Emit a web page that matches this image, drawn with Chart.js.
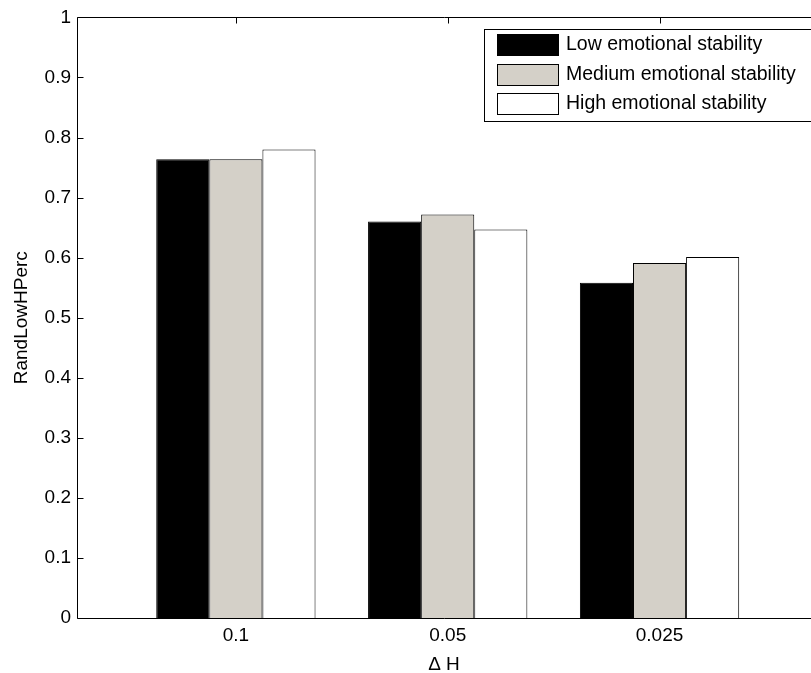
<!DOCTYPE html>
<html><head><meta charset="utf-8">
<script src="https://cdn.jsdelivr.net/npm/chart.js@4"></script>
<style>html,body{margin:0;padding:0;background:#fff;overflow:hidden}#wrap{width:811px;height:673px;position:relative}</style>
</head><body><div id="wrap"><canvas id="c"></canvas></div>
<script>
const categories = ['0.1', '0.05', '0.025'];
const categoryPositions = [1, 2, 3];
const seriesNames = ['Low emotional stability', 'Medium emotional stability', 'High emotional stability'];
const lowValues = [0.764, 0.660, 0.558];
const mediumValues = [0.764, 0.672, 0.591];
const highValues = [0.780, 0.647, 0.601];
const yTickLabels = ['0', '0.1', '0.2', '0.3', '0.4', '0.5', '0.6', '0.7', '0.8', '0.9', '1'];
const seriesColors = ['#000000', '#d4d0c8', '#ffffff'];
const xTitle = 'Δ H';
const yTitle = 'RandLowHPerc';

const allValues = [lowValues, mediumValues, highValues];
const FONT = '"Liberation Sans", Arial, sans-serif';
const fontSize = 19;

const axesPlugin = {
  id: 'matlabAxes',
  afterDatasetsDraw(chart) {
    const {ctx, chartArea: a, scales: {x, y}} = chart;
    ctx.save();
    ctx.strokeStyle = '#000';
    ctx.lineWidth = 1;
    const L = Math.round(a.left) + 0.5, T = Math.round(a.top) + 0.5, B = Math.round(a.bottom) + 0.5;
    ctx.beginPath();
    ctx.moveTo(L, T); ctx.lineTo(L, B); ctx.lineTo(a.right + 20, B);
    ctx.moveTo(L, T); ctx.lineTo(a.right + 20, T);
    y.ticks.forEach(t => {
      const py = Math.round(y.getPixelForValue(t.value)) + 0.5;
      ctx.moveTo(L, py); ctx.lineTo(L + 6, py);
    });
    x.ticks.forEach(t => {
      const px = Math.round(x.getPixelForValue(t.value)) + 0.5;
      ctx.moveTo(px, T); ctx.lineTo(px, T + 6);
    });
    ctx.stroke();
    ctx.restore();
  },
  afterDraw(chart) {
    const ctx = chart.ctx;
    ctx.save();
    const bx = 484.5, by = 29.5, bw = 400, bh = 92;
    ctx.fillStyle = '#fff';
    ctx.fillRect(bx, by, bw, bh);
    ctx.strokeStyle = '#000';
    ctx.lineWidth = 1;
    ctx.strokeRect(bx, by, bw, bh);
    ctx.font = '19.5px ' + FONT;
    ctx.textBaseline = 'middle';
    ctx.textAlign = 'left';
    chart.data.datasets.forEach((ds, i) => {
      const sy = 34 + Math.round(i * 29.5);
      ctx.fillStyle = ds.backgroundColor;
      ctx.fillRect(497, sy, 61, 21);
      ctx.strokeStyle = '#000';
      ctx.strokeRect(497.5, sy + 0.5, 61, 21);
      ctx.fillStyle = '#000';
      ctx.fillText(ds.label, 566, sy + 11);
    });
    ctx.restore();
  }
};

new Chart(document.getElementById('c'), {
  type: 'bar',
  data: {
    datasets: seriesNames.map((n, i) => ({
      label: n,
      data: categoryPositions.map((p, j) => ({x: p, y: allValues[i][j]})),
      backgroundColor: seriesColors[i],
      borderColor: '#000',
      borderWidth: 1,
      categoryPercentage: 0.752,
      barPercentage: 1
    }))
  },
  options: {
    responsive: true,
    maintainAspectRatio: false,
    animation: false,
    layout: {padding: {top: 17, right: 0, left: 0, bottom: 0}},
    plugins: {legend: {display: false}, tooltip: {enabled: false}},
    scales: {
      x: {
        type: 'linear', min: 0.25, max: 3.715, offset: false,
        grid: {display: false, drawTicks: false},
        border: {display: false},
        afterBuildTicks: s => { s.ticks = categoryPositions.map(v => ({value: v})); },
        ticks: {
          callback: (v, i) => categories[i],
          padding: 6, color: '#000', maxRotation: 0, autoSkip: false,
          font: {family: FONT, size: fontSize}
        },
        title: {display: true, text: xTitle, color: '#000', padding: {top: 0, bottom: 0},
          font: {family: FONT, size: fontSize, lineHeight: 0.85}},
        afterFit: s => { s.height = 55; }
      },
      y: {
        min: 0, max: 1,
        grid: {display: false, drawTicks: false},
        border: {display: false},
        ticks: {stepSize: 0.1, padding: 6, color: '#000', font: {family: FONT, size: fontSize},
          callback: (v, i) => yTickLabels[i]},
        title: {display: true, text: yTitle, color: '#000', padding: {top: 10, bottom: 0},
          font: {family: FONT, size: fontSize}},
        afterFit: s => { s.width = 77; }
      }
    }
  },
  plugins: [axesPlugin]
});
</script>
</body></html>
